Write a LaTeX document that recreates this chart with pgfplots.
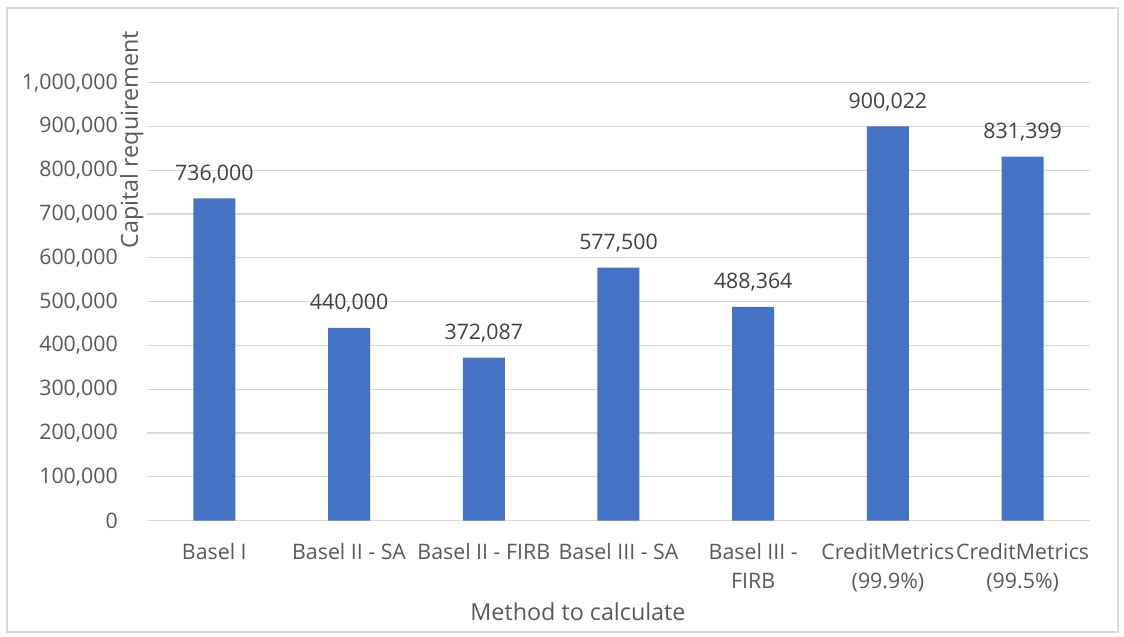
\documentclass[border=0pt]{standalone}
\usepackage{fontspec}
\setmainfont{Open Sans}
\usepackage{pgfplots}
\pgfplotsset{compat=1.18}
\definecolor{barblue}{HTML}{4472C4}
\definecolor{gridgray}{HTML}{D9D9D9}
\definecolor{txtgray}{HTML}{595959}
\definecolor{lblgray}{HTML}{404040}
\begin{document}
\begin{tikzpicture}[x=1pt,y=1pt]
\begin{axis}[
  at={(0,0)}, anchor=south west,
  scale only axis, width=707.25pt, height=328.5pt,
  ymin=0, ymax=1000000,
  xmin=-0.5, xmax=6.5,
  ybar, bar width=31.5pt,
  axis x line*=bottom, axis y line*=left,
  y axis line style={draw=none},
  x axis line style={draw=gridgray, line width=0.9pt},
  major tick length=0pt,
  ytick={0,100000,200000,300000,400000,500000,600000,700000,800000,900000,1000000},
  ymajorgrids, grid style={gridgray, line width=0.9pt},
  scaled y ticks=false,
  yticklabel style={/pgf/number format/fixed, /pgf/number format/precision=0, /pgf/number format/1000 sep={,}, /pgf/number format/assume math mode=true},
  y tick label style={anchor=east, inner sep=0pt, xshift=-21.75pt, font=\fontsize{16}{19}\selectfont, color=txtgray},
  xtick=data,
  xticklabels={Basel I, Basel II - SA, Basel II - FIRB, Basel III - SA, Basel III -\\FIRB, CreditMetrics\\(99.9\%), CreditMetrics\\(99.5\%)},
  x tick label style={anchor=north, align=center, inner sep=0pt, yshift=-17pt, font=\fontsize{16}{21.75}\selectfont, color=txtgray},
  xlabel={Method to calculate},
  xlabel style={at={(axis description cs:0.457,-0.2085)}, anchor=center, font=\fontsize{17.5}{21}\selectfont, color=txtgray},
  ylabel={Capital requirement},
  ylabel style={at={(axis description cs:-0.0162,0.870)}, anchor=center, font=\fontsize{17.5}{21}\selectfont, color=txtgray},
  nodes near coords={\pgfmathprintnumber[fixed,precision=0,1000 sep={,},assume math mode=true]{\pgfplotspointmeta}},
  every node near coord/.append style={anchor=base, inner sep=0pt, yshift=13.5pt, font=\fontsize{16}{19}\selectfont, color=lblgray},
  clip=false,
]
\addplot[fill=barblue, draw=none] coordinates {
  (0,736000) (1,440000) (2,372087) (3,577500) (4,488364) (5,900022) (6,831399)
};
\end{axis}
\draw[gridgray, line width=0.9pt] (-105,384.5) rectangle (728.25,-83.5);
\pgfresetboundingbox
\path[use as bounding box] (-110.25,-87.2) rectangle (732.75,390.5);
\end{tikzpicture}
\end{document}
